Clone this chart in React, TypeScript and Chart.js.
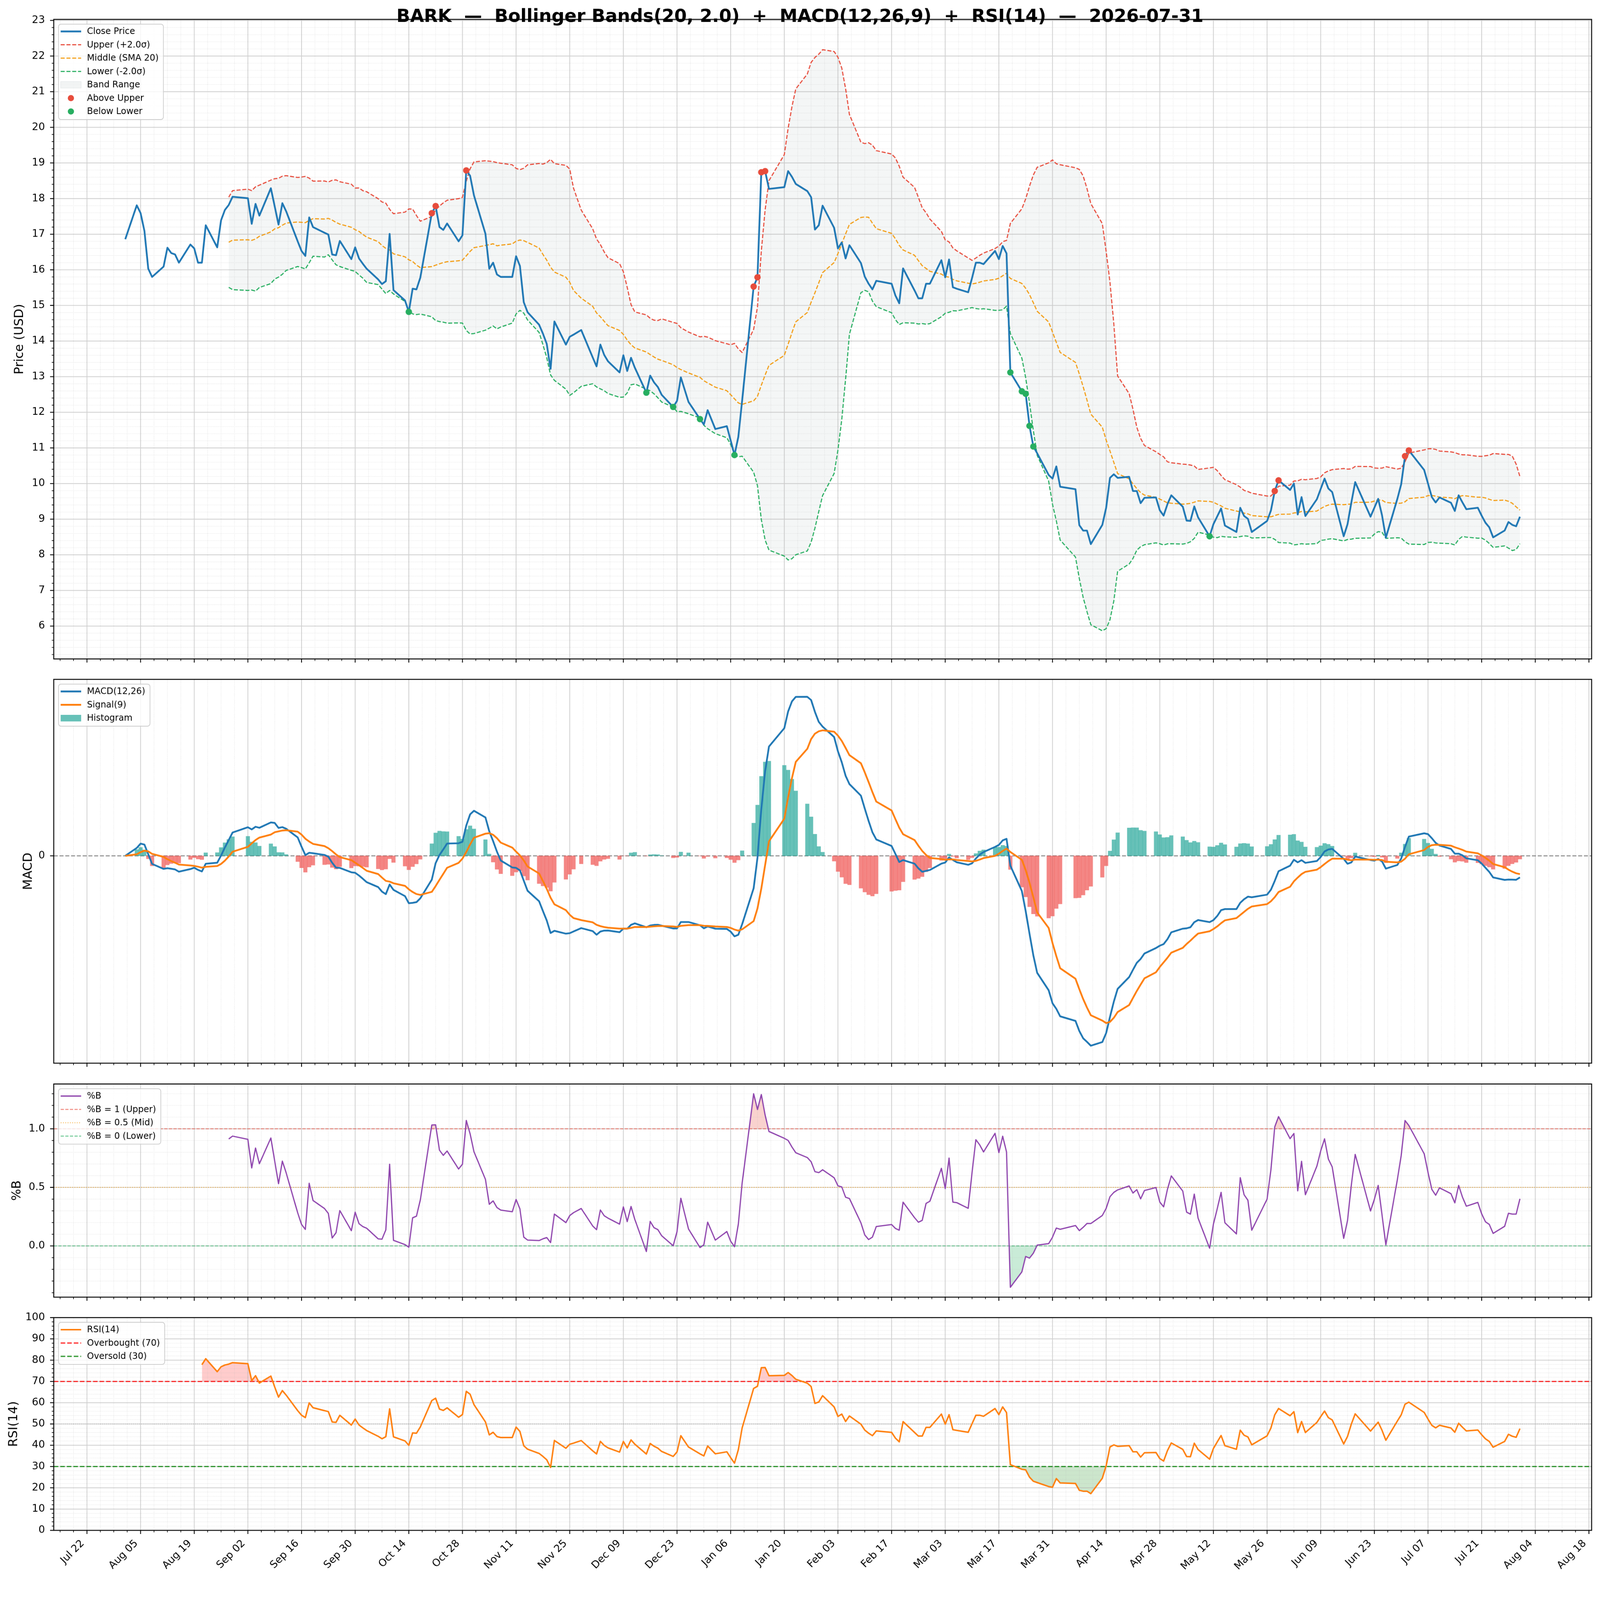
import React, { useEffect, useRef, useState } from "react";
import { Chart, registerables } from "chart.js";

Chart.register(...registerables);

const FONT = '"DejaVu Sans", "Liberation Sans", sans-serif';

// ------------------------------------------------------------------ data
const TICKER = "BARK";
const AS_OF = "2026-07-31";

const dates = [
  "2025-08-01","2025-08-04","2025-08-05","2025-08-06","2025-08-07","2025-08-08","2025-08-11","2025-08-12","2025-08-13","2025-08-14","2025-08-15","2025-08-18","2025-08-19","2025-08-20","2025-08-21","2025-08-22","2025-08-25","2025-08-26","2025-08-27","2025-08-28","2025-08-29",
  "2025-09-02","2025-09-03","2025-09-04","2025-09-05","2025-09-08","2025-09-09","2025-09-10","2025-09-11","2025-09-12","2025-09-15","2025-09-16","2025-09-17","2025-09-18","2025-09-19","2025-09-22","2025-09-23","2025-09-24","2025-09-25","2025-09-26","2025-09-29","2025-09-30",
  "2025-10-01","2025-10-02","2025-10-03","2025-10-06","2025-10-07","2025-10-08","2025-10-09","2025-10-10","2025-10-13","2025-10-14","2025-10-15","2025-10-16","2025-10-17","2025-10-20","2025-10-21","2025-10-22","2025-10-23","2025-10-24","2025-10-27","2025-10-28","2025-10-29","2025-10-30","2025-10-31",
  "2025-11-03","2025-11-04","2025-11-05","2025-11-06","2025-11-07","2025-11-10","2025-11-11","2025-11-12","2025-11-13","2025-11-14","2025-11-17","2025-11-18","2025-11-19","2025-11-20","2025-11-21","2025-11-24","2025-11-25","2025-11-26","2025-11-28",
  "2025-12-01","2025-12-02","2025-12-03","2025-12-04","2025-12-05","2025-12-08","2025-12-09","2025-12-10","2025-12-11","2025-12-12","2025-12-15","2025-12-16","2025-12-17","2025-12-18","2025-12-19","2025-12-22","2025-12-23","2025-12-24","2025-12-26","2025-12-29","2025-12-30","2025-12-31",
  "2026-01-02","2026-01-05","2026-01-06","2026-01-07","2026-01-08","2026-01-09","2026-01-12","2026-01-13","2026-01-14","2026-01-15","2026-01-16","2026-01-20","2026-01-21","2026-01-22","2026-01-23","2026-01-26","2026-01-27","2026-01-28","2026-01-29","2026-01-30",
  "2026-02-02","2026-02-03","2026-02-04","2026-02-05","2026-02-06","2026-02-09","2026-02-10","2026-02-11","2026-02-12","2026-02-13","2026-02-17","2026-02-18","2026-02-19","2026-02-20","2026-02-23","2026-02-24","2026-02-25","2026-02-26","2026-02-27",
  "2026-03-02","2026-03-03","2026-03-04","2026-03-05","2026-03-06","2026-03-09","2026-03-10","2026-03-11","2026-03-12","2026-03-13","2026-03-16","2026-03-17","2026-03-18","2026-03-19","2026-03-20","2026-03-23","2026-03-24","2026-03-25","2026-03-26","2026-03-27","2026-03-30","2026-03-31",
  "2026-04-01","2026-04-02","2026-04-06","2026-04-07","2026-04-08","2026-04-09","2026-04-10","2026-04-13","2026-04-14","2026-04-15","2026-04-16","2026-04-17","2026-04-20","2026-04-21","2026-04-22","2026-04-23","2026-04-24","2026-04-27","2026-04-28","2026-04-29","2026-04-30",
  "2026-05-01","2026-05-04","2026-05-05","2026-05-06","2026-05-07","2026-05-08","2026-05-11","2026-05-12","2026-05-13","2026-05-14","2026-05-15","2026-05-18","2026-05-19","2026-05-20","2026-05-21","2026-05-22","2026-05-26","2026-05-27","2026-05-28","2026-05-29",
  "2026-06-01","2026-06-02","2026-06-03","2026-06-04","2026-06-05","2026-06-08","2026-06-09","2026-06-10","2026-06-11","2026-06-12","2026-06-15","2026-06-16","2026-06-17","2026-06-18","2026-06-22","2026-06-23","2026-06-24","2026-06-25","2026-06-26","2026-06-29","2026-06-30",
  "2026-07-01","2026-07-02","2026-07-06","2026-07-07","2026-07-08","2026-07-09","2026-07-10","2026-07-13","2026-07-14","2026-07-15","2026-07-16","2026-07-17","2026-07-20","2026-07-21","2026-07-22","2026-07-23","2026-07-24","2026-07-27","2026-07-28","2026-07-29","2026-07-30","2026-07-31",
];

const close = [
  16.86,17.81,17.59,17.09,16.03,15.80,16.09,16.62,16.47,16.43,16.20,16.71,16.60,16.20,16.20,17.25,16.63,17.39,17.68,17.82,18.05,
  18.01,17.29,17.85,17.52,18.29,17.78,17.27,17.87,17.64,16.80,16.53,16.39,17.47,17.20,17.04,16.99,16.43,16.41,16.81,16.30,16.63,
  16.32,16.17,16.03,15.73,15.60,15.68,17.01,15.43,15.14,14.82,15.47,15.45,15.78,17.59,17.79,17.20,17.12,17.30,16.80,16.97,18.79,18.64,18.09,
  17.01,16.03,16.20,15.87,15.80,15.80,16.38,16.11,15.09,14.81,14.46,14.21,13.92,13.22,14.55,13.90,14.12,14.18,14.31,
  13.54,13.29,13.90,13.61,13.43,13.12,13.60,13.16,13.53,13.25,12.55,13.03,12.84,12.71,12.49,12.15,12.32,12.98,12.29,11.81,11.66,12.06,
  11.53,11.61,11.21,10.80,11.31,12.33,15.53,15.79,18.74,18.77,18.27,18.32,18.77,18.61,18.41,18.21,18.04,17.13,17.25,17.80,
  17.18,16.60,16.77,16.32,16.69,16.19,15.81,15.61,15.45,15.69,15.61,15.28,15.06,16.04,15.42,15.20,15.20,15.61,15.61,
  16.27,15.79,16.29,15.51,15.47,15.37,15.77,16.20,16.20,16.16,16.53,16.30,16.67,16.46,13.12,12.59,12.52,11.62,11.04,10.85,10.24,10.14,
  10.48,9.91,9.84,8.83,8.68,8.68,8.30,8.84,9.32,10.16,10.26,10.16,10.19,9.79,9.79,9.45,9.60,9.61,9.25,9.10,9.42,
  9.67,9.35,8.96,8.95,9.36,9.05,8.52,8.86,9.08,9.30,8.82,8.64,9.32,9.09,9.01,8.64,8.95,9.24,9.79,10.09,
  9.82,10.00,9.13,9.62,9.09,9.56,9.85,10.14,9.86,9.76,8.52,8.86,9.47,10.04,9.07,9.32,9.57,9.11,8.48,9.57,9.98,
  10.77,10.93,10.38,10.00,9.62,9.47,9.61,9.46,9.23,9.67,9.47,9.28,9.32,9.10,8.90,8.77,8.49,8.68,8.92,8.84,8.80,9.07,
];

const aboveUpperDates = ["2025-10-20","2025-10-21","2025-10-29","2026-01-12","2026-01-13","2026-01-14","2026-01-15","2026-05-28","2026-05-29","2026-07-01","2026-07-02"];
const belowLowerDates = ["2025-10-14","2025-12-15","2025-12-22","2025-12-29","2026-01-07","2026-03-20","2026-03-23","2026-03-24","2026-03-25","2026-03-26","2026-05-11"];

const xTickDates = ["2025-07-22","2025-08-05","2025-08-19","2025-09-02","2025-09-16","2025-09-30","2025-10-14","2025-10-28","2025-11-11","2025-11-25","2025-12-09","2025-12-23","2026-01-06","2026-01-20","2026-02-03","2026-02-17","2026-03-03","2026-03-17","2026-03-31","2026-04-14","2026-04-28","2026-05-12","2026-05-26","2026-06-09","2026-06-23","2026-07-07","2026-07-21","2026-08-04","2026-08-18"];
const xTickLabels = ["Jul 22","Aug 05","Aug 19","Sep 02","Sep 16","Sep 30","Oct 14","Oct 28","Nov 11","Nov 25","Dec 09","Dec 23","Jan 06","Jan 20","Feb 03","Feb 17","Mar 03","Mar 17","Mar 31","Apr 14","Apr 28","May 12","May 26","Jun 09","Jun 23","Jul 07","Jul 21","Aug 04","Aug 18"];

const priceTicks = [6,7,8,9,10,11,12,13,14,15,16,17,18,19,20,21,22,23];
const macdTicks = [0];
const pctBTicks = [0, 0.5, 1.0];
const rsiTicks = [0,10,20,30,40,50,60,70,80,90,100];

const BB_PERIOD = 20;
const BB_K = 2.0;
const MACD_FAST = 12;
const MACD_SLOW = 26;
const MACD_SIGNAL = 9;
const RSI_PERIOD = 14;
const RSI_OVERBOUGHT = 70;
const RSI_OVERSOLD = 30;
const RSI_MID = 50;
const PCTB_UPPER = 1;
const PCTB_MID = 0.5;
const PCTB_LOWER = 0;

// ------------------------------------------------------------------ indicators
const N = Math.min(dates.length, close.length);
const C = close.slice(0, N);

function rollingMean(a: number[], n: number) {
  return a.map((_, i) => {
    if (i < n - 1) return null;
    let s = 0;
    for (let k = i - n + 1; k <= i; k++) s += a[k];
    return s / n;
  });
}
function rollingStd(a: number[], n: number) {
  return a.map((_, i) => {
    if (i < n - 1) return null;
    let s = 0;
    for (let k = i - n + 1; k <= i; k++) s += a[k];
    const m = s / n;
    let v = 0;
    for (let k = i - n + 1; k <= i; k++) v += (a[k] - m) * (a[k] - m);
    return Math.sqrt(v / (n - 1));
  });
}
function ema(a: number[], span: number) {
  const al = 2 / (span + 1);
  const out: number[] = [];
  let prev = a[0];
  out.push(prev);
  for (let i = 1; i < a.length; i++) {
    prev = al * a[i] + (1 - al) * prev;
    out.push(prev);
  }
  return out;
}

const mid = rollingMean(C, BB_PERIOD);
const sd = rollingStd(C, BB_PERIOD);
const upper = mid.map((m, i) => (m == null ? null : m + BB_K * (sd[i] as number)));
const lower = mid.map((m, i) => (m == null ? null : m - BB_K * (sd[i] as number)));
const pctB = C.map((c, i) => (upper[i] == null ? null : (c - (lower[i] as number)) / ((upper[i] as number) - (lower[i] as number))));

const emaFast = ema(C, MACD_FAST);
const emaSlow = ema(C, MACD_SLOW);
const macd = C.map((_, i) => emaFast[i] - emaSlow[i]);
const signal = ema(macd, MACD_SIGNAL);
const hist = macd.map((m, i) => m - signal[i]);

const rsi: (number | null)[] = C.map(() => null);
{
  let ag = 0, al = 0;
  for (let i = 1; i < N; i++) {
    const d = C[i] - C[i - 1];
    const g = d > 0 ? d : 0;
    const l = d < 0 ? -d : 0;
    if (i === 1) { ag = g; al = l; }
    else {
      ag = ag * (1 - 1 / RSI_PERIOD) + g / RSI_PERIOD;
      al = al * (1 - 1 / RSI_PERIOD) + l / RSI_PERIOD;
    }
    if (i >= RSI_PERIOD) rsi[i] = al === 0 ? 100 : 100 - 100 / (1 + ag / al);
  }
}

// ------------------------------------------------------------------ layout (design pixels)
const W = 4378;
const H = 4322;
const PLOT_L = 147;
const PLOT_R = 4355;
const BASE = Date.UTC(2025, 6, 22);
const toDay = (s: string) => (Date.parse(s + "T00:00:00Z") - BASE) / 86400000;
const X_MIN = -8.67;
const X_MAX = 392.7;
const xs = dates.slice(0, N).map(toDay);
const xMajor = xTickDates.map(toDay);
const xMinor: number[] = [];
for (let v = xMajor[0] - 14; v <= X_MAX; v += 3.5) {
  if (v >= X_MIN && Math.abs(v % 14) > 1e-6) xMinor.push(v);
}
function minorRange(lo: number, hi: number, step: number, skipEvery: number) {
  const out: number[] = [];
  const k0 = Math.ceil(lo / step - 1e-9), k1 = Math.floor(hi / step + 1e-9);
  for (let k = k0; k <= k1; k++) {
    if (k % skipEvery !== 0) out.push(+(k * step).toFixed(6));
  }
  return out;
}

const PANELS = [
  { top: 0, height: 1831, plotTop: 53, plotBottom: 1803, ylabelX: 54 },
  { top: 1831, height: 1104, plotTop: 1859, plotBottom: 2909, ylabelX: 78 },
  { top: 2935, height: 640, plotTop: 2966, plotBottom: 3549, ylabelX: 47 },
  { top: 3575, height: 747, plotTop: 3605, plotBottom: 4187, ylabelX: 38 },
];

const MAJOR_GRID = "rgba(176,176,176,0.6)";
const MINOR_GRID = "rgba(176,176,176,0.45)";
const BAND_FILL = "rgba(149,165,166,0.1)";
const DASH = [11, 4.8];
const LW_MAIN = 4.8;
const LW_BAND = 3.0;

const pts = (arr: (number | null)[]) =>
  arr.slice(0, N).map((v, i) => (v == null ? null : { x: xs[i], y: v })).filter((p) => p !== null);
const hline = (v: number) => [{ x: X_MIN, y: v }, { x: X_MAX, y: v }];

type LegendItem = { label: string; kind: "line" | "patch" | "dot"; color: string; width?: number; dash?: number[]; edge?: string };

function drawLegend(ctx: CanvasRenderingContext2D, items: LegendItem[], left: number, top: number) {
  ctx.save();
  ctx.font = `24px ${FONT}`;
  const rowH = 36.5;
  let maxW = 0;
  for (const it of items) maxW = Math.max(maxW, ctx.measureText(it.label).width);
  const w = 78 + maxW + 13;
  const h = 20 + rowH * (items.length - 1) + 22;
  const r = 7;
  ctx.beginPath();
  ctx.moveTo(left + r, top);
  ctx.lineTo(left + w - r, top);
  ctx.arcTo(left + w, top, left + w, top + r, r);
  ctx.lineTo(left + w, top + h - r);
  ctx.arcTo(left + w, top + h, left + w - r, top + h, r);
  ctx.lineTo(left + r, top + h);
  ctx.arcTo(left, top + h, left, top + h - r, r);
  ctx.lineTo(left, top + r);
  ctx.arcTo(left, top, left + r, top, r);
  ctx.closePath();
  ctx.fillStyle = "rgba(255,255,255,0.8)";
  ctx.fill();
  ctx.strokeStyle = "#cccccc";
  ctx.lineWidth = 2;
  ctx.stroke();
  items.forEach((it, i) => {
    const cy = top + 20 + i * rowH;
    if (it.kind === "line") {
      ctx.save();
      ctx.strokeStyle = it.color;
      ctx.lineWidth = it.width || 2.8;
      ctx.setLineDash(it.dash || []);
      ctx.beginPath();
      ctx.moveTo(left + 6, cy);
      ctx.lineTo(left + 62, cy);
      ctx.stroke();
      ctx.restore();
    } else if (it.kind === "patch") {
      ctx.fillStyle = it.color;
      ctx.fillRect(left + 6, cy - 9, 56, 18);
      if (it.edge) {
        ctx.strokeStyle = it.edge;
        ctx.lineWidth = 1;
        ctx.strokeRect(left + 6, cy - 9, 56, 18);
      }
    } else {
      ctx.fillStyle = it.color;
      ctx.beginPath();
      ctx.arc(left + 34, cy, 8.5, 0, Math.PI * 2);
      ctx.fill();
    }
    ctx.fillStyle = "#000";
    ctx.textAlign = "left";
    ctx.textBaseline = "middle";
    ctx.fillText(it.label, left + 78, cy + 1);
  });
  ctx.restore();
}

type DecoCfg = {
  panel: typeof PANELS[number];
  yMajor: number[];
  yMinor: number[];
  hGrid: boolean;
  ylabel: string;
  legend: LegendItem[];
  title?: string;
  xLabels?: boolean;
};

function makeDeco(cfg: DecoCfg) {
  return {
    id: "deco",
    beforeDatasetsDraw(chart: any) {
      const { ctx, chartArea: a, scales } = chart;
      const x = scales.x, y = scales.y;
      ctx.save();
      ctx.beginPath();
      ctx.rect(a.left, a.top, a.right - a.left, a.bottom - a.top);
      ctx.clip();
      ctx.strokeStyle = MINOR_GRID;
      ctx.lineWidth = 1.4;
      ctx.setLineDash([1.4, 2.4]);
      ctx.beginPath();
      for (const v of xMinor) {
        const p = x.getPixelForValue(v);
        ctx.moveTo(p, a.top);
        ctx.lineTo(p, a.bottom);
      }
      for (const v of cfg.yMinor) {
        const p = y.getPixelForValue(v);
        ctx.moveTo(a.left, p);
        ctx.lineTo(a.right, p);
      }
      ctx.stroke();
      ctx.setLineDash([]);
      ctx.strokeStyle = MAJOR_GRID;
      ctx.lineWidth = 2.2;
      ctx.beginPath();
      for (const v of xMajor) {
        const p = x.getPixelForValue(v);
        ctx.moveTo(p, a.top);
        ctx.lineTo(p, a.bottom);
      }
      if (cfg.hGrid) {
        for (const v of cfg.yMajor) {
          const p = y.getPixelForValue(v);
          ctx.moveTo(a.left, p);
          ctx.lineTo(a.right, p);
        }
      }
      ctx.stroke();
      ctx.restore();
    },
    afterDatasetsDraw(chart: any) {
      const { ctx, chartArea: a, scales } = chart;
      const x = scales.x, y = scales.y;
      ctx.save();
      ctx.strokeStyle = "#000";
      ctx.setLineDash([]);
      ctx.lineWidth = 2.3;
      ctx.beginPath();
      for (const v of xMajor) {
        const p = x.getPixelForValue(v);
        if (p < a.left - 1 || p > a.right + 1) continue;
        ctx.moveTo(p, a.bottom);
        ctx.lineTo(p, a.bottom + 10);
      }
      for (const v of cfg.yMajor) {
        const p = y.getPixelForValue(v);
        ctx.moveTo(a.left, p);
        ctx.lineTo(a.left - 10, p);
      }
      ctx.stroke();
      ctx.lineWidth = 1.7;
      ctx.beginPath();
      for (const v of xMinor) {
        const p = x.getPixelForValue(v);
        ctx.moveTo(p, a.bottom);
        ctx.lineTo(p, a.bottom + 5.5);
      }
      for (const v of cfg.yMinor) {
        const p = y.getPixelForValue(v);
        ctx.moveTo(a.left, p);
        ctx.lineTo(a.left - 5.5, p);
      }
      ctx.stroke();
      ctx.lineWidth = 2.6;
      ctx.strokeRect(a.left, a.top, a.right - a.left, a.bottom - a.top);
      ctx.restore();
      drawLegend(ctx, cfg.legend, a.left + 13, a.top + 13);
    },
    afterDraw(chart: any) {
      const { ctx, chartArea: a, scales } = chart;
      const x = scales.x;
      ctx.save();
      ctx.fillStyle = "#000";
      ctx.save();
      ctx.font = `34px ${FONT}`;
      ctx.textAlign = "center";
      ctx.textBaseline = "middle";
      ctx.translate(cfg.panel.ylabelX, (a.top + a.bottom) / 2);
      ctx.rotate(-Math.PI / 2);
      ctx.fillText(cfg.ylabel, 0, 0);
      ctx.restore();
      if (cfg.title) {
        ctx.font = `bold 49px ${FONT}`;
        ctx.textAlign = "center";
        ctx.textBaseline = "alphabetic";
        ctx.fillText(cfg.title, W / 2, 60);
      }
      if (cfg.xLabels) {
        ctx.font = `28px ${FONT}`;
        const off = (28 * 1.164) / 2 * Math.SQRT1_2;
        const y0 = a.bottom + 20;
        xMajor.forEach((v, i) => {
          const p = x.getPixelForValue(v);
          ctx.save();
          ctx.translate(p - off, y0 + off);
          ctx.rotate(-Math.PI / 4);
          ctx.textAlign = "right";
          ctx.textBaseline = "middle";
          ctx.fillText(xTickLabels[i], 0, 0);
          ctx.restore();
        });
      }
      ctx.restore();
    },
  };
}

function baseOptions(panel: typeof PANELS[number], yMin: number, yMax: number, yTicks: number[], fmt: (v: number) => string) {
  return {
    responsive: false,
    maintainAspectRatio: false,
    animation: false,
    devicePixelRatio: 1,
    events: [],
    layout: { padding: { left: 0, right: W - PLOT_R, top: panel.plotTop - panel.top, bottom: 0 }, autoPadding: false },
    plugins: {
      legend: { display: false },
      tooltip: { enabled: false },
      title: { display: false },
      filler: { drawTime: "beforeDatasetsDraw", propagate: false },
    },
    scales: {
      x: {
        type: "linear",
        min: X_MIN,
        max: X_MAX,
        offset: false,
        ticks: { display: false },
        grid: { display: false, drawTicks: false, offset: false },
        border: { display: false },
        afterFit: (s: any) => {
          s.height = panel.top + panel.height - panel.plotBottom;
          s.paddingLeft = 0; s.paddingRight = 0; s.paddingTop = 0; s.paddingBottom = 0;
        },
      },
      y: {
        type: "linear",
        position: "left",
        min: yMin,
        max: yMax,
        afterBuildTicks: (s: any) => { s.ticks = yTicks.map((v) => ({ value: v })); },
        afterFit: (s: any) => {
          s.width = PLOT_L;
          s.paddingLeft = 0; s.paddingRight = 0; s.paddingTop = 0; s.paddingBottom = 0;
        },
        ticks: { color: "#000", font: { family: FONT, size: 28 }, padding: 24, autoSkip: false, callback: (v: number) => fmt(v) },
        grid: { display: false, drawTicks: false },
        border: { display: false },
      },
    },
  };
}

const lineDS = (label: string, data: any[], color: string, width: number, extra: any = {}) => ({
  type: "line",
  label,
  data,
  borderColor: color,
  backgroundColor: color,
  borderWidth: width,
  pointRadius: 0,
  pointHoverRadius: 0,
  tension: 0,
  fill: false,
  borderJoinStyle: "round",
  spanGaps: false,
  ...extra,
});

function getScale() {
  if (typeof window === "undefined") return 1;
  const w = document.documentElement.clientWidth || window.innerWidth || W;
  const s = w / W;
  return s > 0 ? s : 1;
}

export default function App() {
  const r1 = useRef<HTMLCanvasElement>(null);
  const r2 = useRef<HTMLCanvasElement>(null);
  const r3 = useRef<HTMLCanvasElement>(null);
  const r4 = useRef<HTMLCanvasElement>(null);
  const [k] = useState(() => {
    if (typeof document !== "undefined") {
      document.body.style.margin = "0";
      document.documentElement.style.overflow = "hidden";
      document.body.style.overflow = "hidden";
    }
    return getScale();
  });

  useEffect(() => {
    Chart.defaults.font.family = FONT;
    const charts: Chart[] = [];

    const markerPts = (list: string[]) =>
      list.map((d) => dates.indexOf(d)).filter((i) => i >= 0 && i < N).map((i) => ({ x: xs[i], y: C[i] }));

    // ---------- price panel
    const p1 = PANELS[0];
    charts.push(
      new Chart(r1.current as HTMLCanvasElement, {
        type: "line",
        data: {
          datasets: [
            lineDS("Close Price", pts(C), "#1f77b4", LW_MAIN, { order: 1 }),
            lineDS(`Upper (+${BB_K.toFixed(1)}σ)`, pts(upper), "#e74c3c", LW_BAND, { borderDash: DASH, order: 2, fill: { target: 3 }, backgroundColor: BAND_FILL }),
            lineDS(`Middle (SMA ${BB_PERIOD})`, pts(mid), "#f39c12", LW_BAND, { borderDash: DASH, order: 2 }),
            lineDS(`Lower (-${BB_K.toFixed(1)}σ)`, pts(lower), "#27ae60", LW_BAND, { borderDash: DASH, order: 2 }),
            { type: "line", label: "Above Upper", data: markerPts(aboveUpperDates), showLine: false, pointRadius: 8.8, pointBackgroundColor: "#e74c3c", pointBorderWidth: 0, order: 0 },
            { type: "line", label: "Below Lower", data: markerPts(belowLowerDates), showLine: false, pointRadius: 8.8, pointBackgroundColor: "#27ae60", pointBorderWidth: 0, order: 0 },
          ],
        },
        options: baseOptions(p1, 5.077, 23.03, priceTicks, (v) => String(v)) as any,
        plugins: [
          makeDeco({
            panel: p1,
            yMajor: priceTicks,
            yMinor: minorRange(5.077, 23.03, 0.2, 5),
            hGrid: true,
            ylabel: "Price (USD)",
            title: `${TICKER}  —  Bollinger Bands(${BB_PERIOD}, ${BB_K.toFixed(1)})  +  MACD(${MACD_FAST},${MACD_SLOW},${MACD_SIGNAL})  +  RSI(${RSI_PERIOD})  —  ${AS_OF}`,
            legend: [
              { label: "Close Price", kind: "line", color: "#1f77b4", width: LW_MAIN },
              { label: `Upper (+${BB_K.toFixed(1)}σ)`, kind: "line", color: "#e74c3c", width: LW_BAND, dash: DASH },
              { label: `Middle (SMA ${BB_PERIOD})`, kind: "line", color: "#f39c12", width: LW_BAND, dash: DASH },
              { label: `Lower (-${BB_K.toFixed(1)}σ)`, kind: "line", color: "#27ae60", width: LW_BAND, dash: DASH },
              { label: "Band Range", kind: "patch", color: "rgba(149,165,166,0.12)", edge: "rgba(149,165,166,0.25)" },
              { label: "Above Upper", kind: "dot", color: "#e74c3c" },
              { label: "Below Lower", kind: "dot", color: "#27ae60" },
            ],
          }),
        ] as any,
      } as any)
    );

    // ---------- MACD panel
    const p2 = PANELS[1];
    let lo = 0, hi = 0;
    for (let i = 0; i < N; i++) {
      lo = Math.min(lo, macd[i], signal[i], hist[i]);
      hi = Math.max(hi, macd[i], signal[i], hist[i]);
    }
    const pad = (hi - lo) * 0.05;
    charts.push(
      new Chart(r2.current as HTMLCanvasElement, {
        type: "bar",
        data: {
          datasets: [
            lineDS("zero", hline(0), "rgba(128,128,128,0.9)", 2.8, { borderDash: DASH, order: 4 }),
            {
              type: "bar",
              label: "Histogram",
              data: pts(hist),
              backgroundColor: hist.slice(0, N).map((h) => (h >= 0 ? "rgba(38,166,154,0.7)" : "rgba(239,83,80,0.7)")),
              borderWidth: 0,
              barPercentage: 1.0,
              categoryPercentage: 1.0,
              order: 3,
            },
            lineDS(`MACD(${MACD_FAST},${MACD_SLOW})`, pts(macd), "#1f77b4", LW_MAIN, { order: 1 }),
            lineDS(`Signal(${MACD_SIGNAL})`, pts(signal), "#ff7f0e", LW_MAIN, { order: 0 }),
          ],
        },
        options: baseOptions(p2, lo - pad, hi + pad, macdTicks, () => "0") as any,
        plugins: [
          makeDeco({
            panel: p2,
            yMajor: macdTicks,
            yMinor: [],
            hGrid: false,
            ylabel: "MACD",
            legend: [
              { label: `MACD(${MACD_FAST},${MACD_SLOW})`, kind: "line", color: "#1f77b4", width: LW_MAIN },
              { label: `Signal(${MACD_SIGNAL})`, kind: "line", color: "#ff7f0e", width: LW_MAIN },
              { label: "Histogram", kind: "patch", color: "rgba(38,166,154,0.7)" },
            ],
          }),
        ] as any,
      } as any)
    );

    // ---------- %B panel
    const p3 = PANELS[2];
    charts.push(
      new Chart(r3.current as HTMLCanvasElement, {
        type: "line",
        data: {
          datasets: [
            lineDS("%B", pts(pctB), "#8e44ad", 3.3, {
              order: 0,
              fill: { target: { value: PCTB_UPPER }, above: "rgba(231,76,60,0.25)", below: "rgba(0,0,0,0)" },
            }),
            lineDS("%B lower fill", pts(pctB), "rgba(0,0,0,0)", 0, {
              order: 5,
              fill: { target: { value: PCTB_LOWER }, above: "rgba(0,0,0,0)", below: "rgba(39,174,96,0.25)" },
            }),
            lineDS("%B = 1 (Upper)", hline(PCTB_UPPER), "rgba(231,76,60,0.7)", 2.4, { borderDash: [8.8, 3.8], order: 2 }),
            lineDS("%B = 0.5 (Mid)", hline(PCTB_MID), "rgba(243,156,18,0.7)", 2.4, { borderDash: [2.4, 3.9], order: 2 }),
            lineDS("%B = 0 (Lower)", hline(PCTB_LOWER), "rgba(39,174,96,0.7)", 2.4, { borderDash: [8.8, 3.8], order: 2 }),
          ],
        },
        options: baseOptions(p3, -0.4376, 1.383, pctBTicks, (v) => v.toFixed(1)) as any,
        plugins: [
          makeDeco({
            panel: p3,
            yMajor: pctBTicks,
            yMinor: minorRange(-0.4376, 1.383, 0.1, 5),
            hGrid: true,
            ylabel: "%B",
            legend: [
              { label: "%B", kind: "line", color: "#8e44ad", width: 3.3 },
              { label: "%B = 1 (Upper)", kind: "line", color: "rgba(231,76,60,0.7)", width: 2.4, dash: [8.8, 3.8] },
              { label: "%B = 0.5 (Mid)", kind: "line", color: "rgba(243,156,18,0.7)", width: 2.4, dash: [2.4, 3.9] },
              { label: "%B = 0 (Lower)", kind: "line", color: "rgba(39,174,96,0.7)", width: 2.4, dash: [8.8, 3.8] },
            ],
          }),
        ] as any,
      } as any)
    );

    // ---------- RSI panel
    const p4 = PANELS[3];
    charts.push(
      new Chart(r4.current as HTMLCanvasElement, {
        type: "line",
        data: {
          datasets: [
            lineDS(`RSI(${RSI_PERIOD})`, pts(rsi), "#ff7f0e", 4.0, {
              order: 0,
              fill: { target: { value: RSI_OVERBOUGHT }, above: "rgba(255,0,0,0.2)", below: "rgba(0,0,0,0)" },
            }),
            lineDS("RSI oversold fill", pts(rsi), "rgba(0,0,0,0)", 0, {
              order: 5,
              fill: { target: { value: RSI_OVERSOLD }, above: "rgba(0,0,0,0)", below: "rgba(0,128,0,0.2)" },
            }),
            lineDS("Overbought (70)", hline(RSI_OVERBOUGHT), "rgba(255,0,0,0.8)", 3.4, { borderDash: [12.5, 5.4], order: 2 }),
            lineDS("Oversold (30)", hline(RSI_OVERSOLD), "rgba(0,128,0,0.8)", 3.4, { borderDash: [12.5, 5.4], order: 2 }),
            lineDS("Mid (50)", hline(RSI_MID), "rgba(128,128,128,0.6)", 2.0, { borderDash: [2.0, 3.3], order: 2 }),
          ],
        },
        options: baseOptions(p4, 0, 100, rsiTicks, (v) => String(v)) as any,
        plugins: [
          makeDeco({
            panel: p4,
            yMajor: rsiTicks,
            yMinor: minorRange(0, 100, 2, 5),
            hGrid: true,
            ylabel: `RSI(${RSI_PERIOD})`,
            xLabels: true,
            legend: [
              { label: `RSI(${RSI_PERIOD})`, kind: "line", color: "#ff7f0e", width: 4.0 },
              { label: `Overbought (${RSI_OVERBOUGHT})`, kind: "line", color: "rgba(255,0,0,0.8)", width: 3.4, dash: [12.5, 5.4] },
              { label: `Oversold (${RSI_OVERSOLD})`, kind: "line", color: "rgba(0,128,0,0.8)", width: 3.4, dash: [12.5, 5.4] },
            ],
          }),
        ] as any,
      } as any)
    );

    return () => {
      charts.forEach((c) => c.destroy());
    };
  }, []);

  const cv = (ref: any, p: typeof PANELS[number]) => (
    <canvas
      ref={ref}
      width={W}
      height={p.height}
      style={{ position: "absolute", left: 0, top: p.top * k, width: W * k, height: p.height * k, display: "block" }}
    />
  );

  return (
    <div style={{ position: "absolute", left: 0, top: 0, width: W * k, height: H * k, background: "#fff", overflow: "hidden" }}>
      {cv(r1, PANELS[0])}
      {cv(r2, PANELS[1])}
      {cv(r3, PANELS[2])}
      {cv(r4, PANELS[3])}
    </div>
  );
}
